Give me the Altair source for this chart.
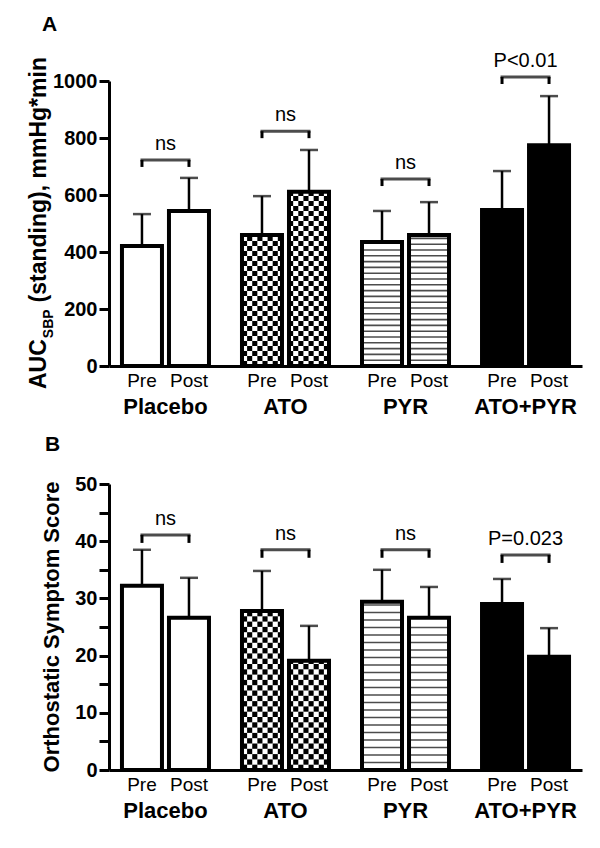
import math
import altair as alt
import pandas as pd

FONT = "Liberation Sans"

groups = ["Placebo", "ATO", "PYR", "ATO+PYR"]
phases = ["Pre", "Post"]
group_fill = ["white", "white", "white", "black"]

# Panel A: AUC SBP (standing), mmHg*min  (order: Placebo Pre, Post, ATO Pre, Post, PYR Pre, Post, ATO+PYR Pre, Post)
auc_mean = [421, 544, 460, 611, 435, 460, 547, 775]
auc_sd = [112, 116, 136, 147, 109, 115, 137, 172]
auc_bracket = [723, 824, 656, 1014]
auc_sig = ["ns", "ns", "ns", "P<0.01"]
auc_ticks = [0, 200, 400, 600, 800, 1000]

# Panel B: Orthostatic Symptom Score
oss_mean = [32.2, 26.6, 27.8, 19.1, 29.4, 26.6, 29.0, 19.8]
oss_sd = [6.3, 7.0, 7.0, 6.1, 5.6, 5.4, 4.4, 5.0]
oss_bracket = [41.1, 38.5, 38.5, 37.6]
oss_sig = ["ns", "ns", "ns", "P=0.023"]
oss_ticks = [0, 5, 10, 15, 20, 25, 30, 35, 40, 45, 50]

W = 473


def make_panel(means, sds, brk, sig, ymax, ticks, label_step, H, stripe_px,
               cell_px, leg_px, letter, letter_pos, title_layers):
    ppu = H / ymax
    rows = []
    for i, g in enumerate(groups):
        for j, p in enumerate(phases):
            k = 2 * i + j
            rows.append({"group": g, "phase": p, "mean": means[k],
                         "top": means[k] + sds[k], "fill": group_fill[i]})
    bars = pd.DataFrame(rows)

    # checkerboard cells for ATO, stripes for PYR (pattern geometry derived from values)
    cell_u = cell_px / ppu
    cells = []
    stripes = []
    for r in rows:
        if r["group"] == "ATO":
            nrow = math.ceil(r["mean"] / cell_u)
            base = 0 if r["phase"] == "Pre" else 9
            for rr in range(nrow):
                for c in range(8):
                    if (rr + c) % 2 == 0:
                        cells.append({"group": "ATO", "slot": base + c,
                                      "y0": rr * cell_u,
                                      "y1": min((rr + 1) * cell_u, r["mean"])})
        if r["group"] == "PYR":
            st = stripe_px / ppu
            kk = 1
            while kk * st < r["mean"] - st * 0.4:
                stripes.append({"group": "PYR", "phase": r["phase"], "ys": kk * st})
                kk += 1
    cells = pd.DataFrame(cells)
    stripes = pd.DataFrame(stripes)

    bdf = pd.DataFrame({"group": groups, "b": brk, "sig": sig})
    legs = []
    for g, b in zip(groups, brk):
        for p in phases:
            legs.append({"group": g, "phase": p, "b": b, "b2": b - leg_px / ppu})
    legs = pd.DataFrame(legs)

    xscale = alt.Scale(type="band", domain=groups, paddingInner=0.275, paddingOuter=0.108)
    xaxis = alt.Axis(labels=False, ticks=False, title=None, domainWidth=3,
                     domainColor="black", grid=False)
    x = alt.X("group:N", sort=groups, scale=xscale, axis=xaxis)
    xo = alt.XOffset("phase:N", sort=phases,
                     scale=alt.Scale(type="band", domain=phases,
                                     paddingInner=0.149, paddingOuter=0))

    yscale = alt.Scale(domain=[0, ymax], nice=False, zero=True)
    yaxis = alt.Axis(values=ticks, title=None, grid=False, domainWidth=3,
                     domainColor="black", tickWidth=3, tickColor="black",
                     tickSize=10, labelFontSize=20, labelFontWeight="bold",
                     labelFont=FONT, labelColor="black", labelPadding=2,
                     format="d",
                     labelExpr=f"datum.value % {label_step} == 0 ? datum.label : ''")

    def Y(f):
        return alt.Y(f, scale=yscale, axis=yaxis)

    layers = []
    layers.append(alt.Chart(bars).mark_bar(strokeWidth=0).encode(
        x=x, xOffset=xo, y=Y("mean:Q"),
        fill=alt.Fill("fill:N", scale=None, legend=None)))
    layers.append(alt.Chart(cells).mark_rect(color="black").encode(
        x=x,
        xOffset=alt.XOffset("slot:O", scale=alt.Scale(type="band",
                                                      domain=list(range(17)),
                                                      paddingInner=0, paddingOuter=0)),
        y=Y("y0:Q"), y2="y1:Q"))
    layers.append(alt.Chart(stripes).mark_tick(orient="horizontal", color="black",
                                               thickness=1.6, size=40).encode(
        x=x, xOffset=xo, y=Y("ys:Q")))
    layers.append(alt.Chart(bars).mark_bar(fillOpacity=0, stroke="black",
                                           strokeWidth=4).encode(
        x=x, xOffset=xo, y=Y("mean:Q")))
    layers.append(alt.Chart(bars).mark_rule(color="black", strokeWidth=2.5).encode(
        x=x, xOffset=xo, y=Y("mean:Q"), y2="top:Q"))
    layers.append(alt.Chart(bars).mark_tick(orient="horizontal", color="black",
                                            thickness=2.5, size=18).encode(
        x=x, xOffset=xo, y=Y("top:Q")))
    layers.append(alt.Chart(bdf).mark_tick(orient="horizontal", color="black",
                                           thickness=3, size=50).encode(
        x=x, y=Y("b:Q")))
    layers.append(alt.Chart(legs).mark_rule(color="black", strokeWidth=3).encode(
        x=x, xOffset=xo, y=Y("b:Q"), y2="b2:Q"))
    layers.append(alt.Chart(bdf).mark_text(dy=-10, baseline="alphabetic", fontSize=20,
                                           font=FONT, color="black").encode(
        x=x, y=Y("b:Q"), text="sig:N"))
    layers.append(alt.Chart(bars).mark_text(baseline="alphabetic", fontSize=19,
                                            font=FONT, color="black").encode(
        x=x, xOffset=xo, y=alt.value(H + 21), text="phase:N"))
    layers.append(alt.Chart(bdf).mark_text(baseline="alphabetic", fontSize=22,
                                           fontWeight="bold", font=FONT,
                                           color="black").encode(
        x=x, y=alt.value(H + 48), text="group:N"))
    layers.append(alt.Chart(pd.DataFrame({"t": [letter]})).mark_text(
        align="left", baseline="alphabetic", fontSize=21, fontWeight="bold",
        font=FONT, color="black").encode(
        x=alt.value(letter_pos[0]), y=alt.value(letter_pos[1]), text="t:N"))
    for (txt, tx, ty, fs, al) in title_layers:
        layers.append(alt.Chart(pd.DataFrame({"t": [txt]})).mark_text(
            angle=270, align=al, baseline="alphabetic", fontSize=fs,
            fontWeight="bold", font=FONT, color="black").encode(
            x=alt.value(tx), y=alt.value(ty), text="t:N"))

    return alt.layer(*layers).resolve_scale(xOffset="independent").properties(
        width=W, height=H)


HA = 285
HB = 286
# title A pieces: AUC, subscript SBP, rest
y_start = 308
auc_w = 2.166 * 23
sbp_w = 2.056 * 14
titleA = [
    ("AUC", -63, y_start, 23, "left"),
    ("SBP", -56, y_start - auc_w - 1, 14, "left"),
    ("(standing), mmHg*min", -63, y_start - auc_w - sbp_w - 8, 23, "left"),
]
titleB = [("Orthostatic Symptom Score", -50, HB / 2, 22, "center")]

panelA = make_panel(auc_mean, auc_sd, auc_bracket, auc_sig, 1000, auc_ticks, 200,
                    HA, 5.8, 5.0, 7, "A", (-67, -50), titleA)
panelB = make_panel(oss_mean, oss_sd, oss_bracket, oss_sig, 50, oss_ticks, 10,
                    HB, 7.5, 5.3, 8, "B", (-64, -33), titleB)

chart = alt.vconcat(panelA, panelB, spacing=118, bounds="flush").properties(
    padding={"left": 19, "top": 6, "right": 5, "bottom": 5}
).configure_view(stroke=None)

chart.save("out.html", embed_options={"renderer": "svg", "actions": False})
